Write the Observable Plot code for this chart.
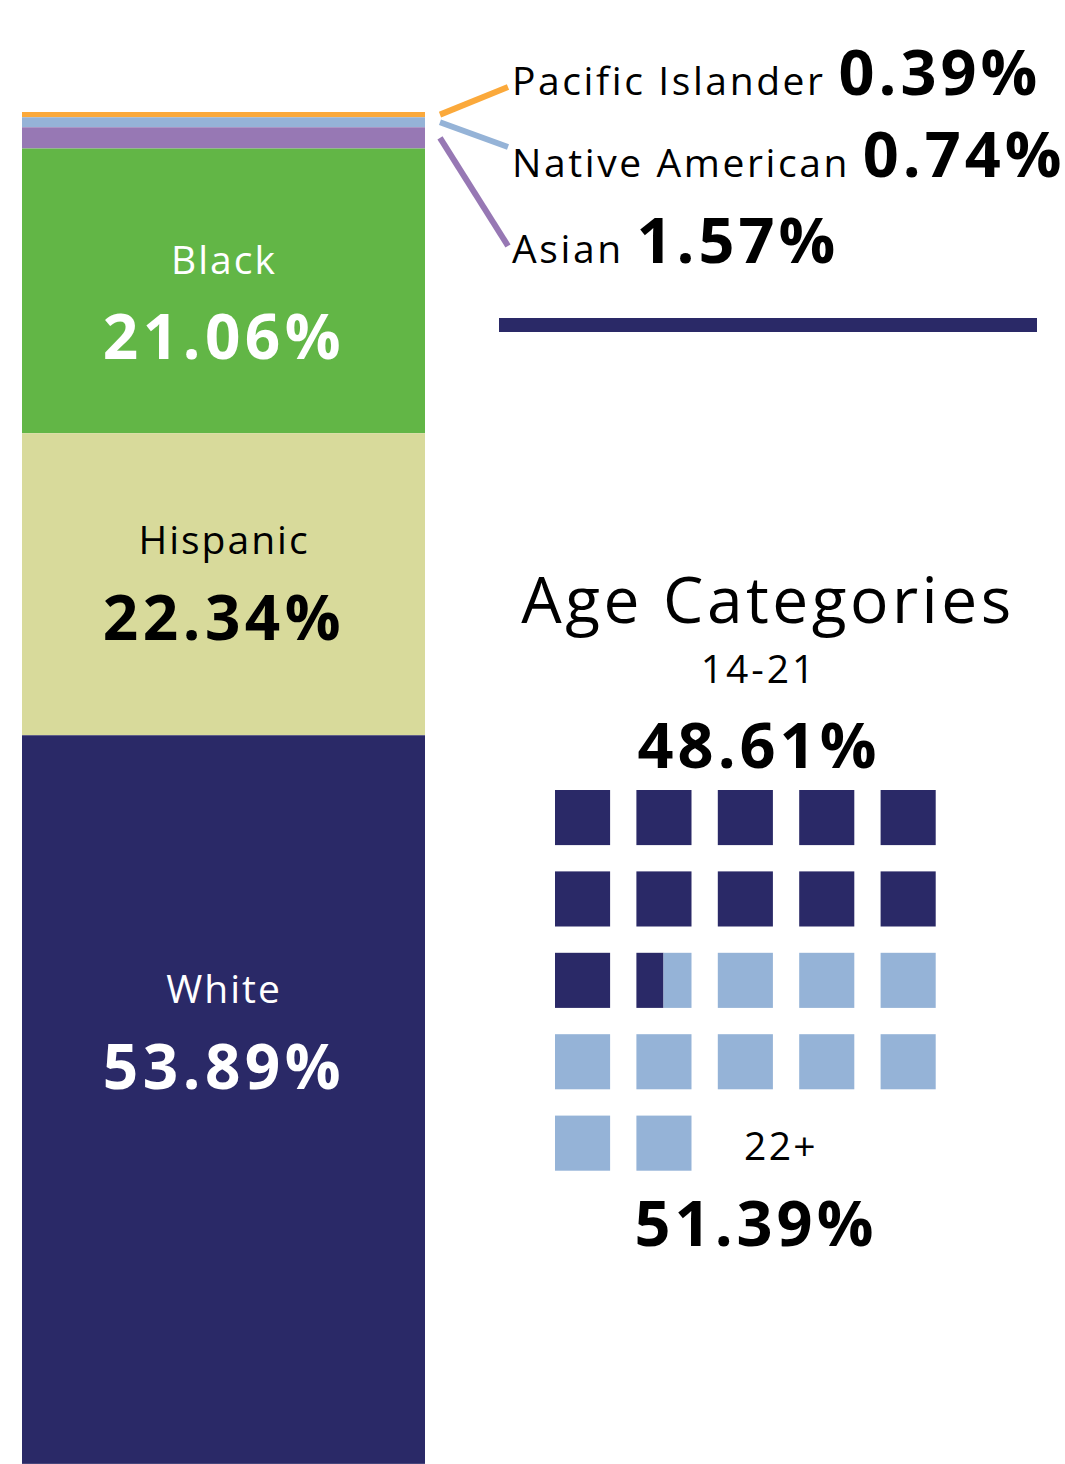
<!DOCTYPE html>
<html><head><meta charset="utf-8">
<script src="https://cdn.jsdelivr.net/npm/d3@7"></script>
<script src="https://cdn.jsdelivr.net/npm/@observablehq/plot@0.6"></script>
<style>
body{margin:0;background:#fff;}
#root{position:relative;width:1065px;height:1464px;overflow:hidden;background:#fff;font-family:"Open Sans",sans-serif;}
#root > svg{position:absolute;}
</style></head><body><div id="root"></div>
<script>
// ---- data ----
const races = ["Pacific Islander", "Native American", "Asian", "Black", "Hispanic", "White"];
const racePct = [0.39, 0.74, 1.57, 21.06, 22.34, 53.89];
const raceColors = ["#FBA93B", "#95B3D7", "#9778B4", "#62B646", "#D8DA9B", "#2A2967"];
const ageGroups = ["14-21", "22+"];
const agePct = [48.61, 51.39];
const ageColors = ["#2A2967", "#95B3D7"];
const waffleSquares = 22;
const waffleCols = 5;
const pctPerSquare = 4.23;

const fmt = v => v.toFixed(2) + "%";
const root = document.getElementById("root");
const FONT = '"Open Sans", sans-serif';

// ---- stacked race bar ----
const raceData = races.map((r, i) => ({g: "all", race: r, pct: racePct[i]}));
// inside labels: [race index, text color, name dy, value dy]
const inside = [[3, "white", -30, 48], [4, "black", -43, 35], [5, "white", -110, -31]];
const insideMarks = inside.flatMap(([i, col, dyN, dyV]) => [
  Plot.text(raceData, Plot.stackY({x: "g", y: "pct", text: d => d.race === races[i] ? d.race : "",
    fill: col, dy: dyN, fontSize: 39, fontFamily: FONT})),
  Plot.text(raceData, Plot.stackY({x: "g", y: "pct", text: d => d.race === races[i] ? fmt(d.pct) : "",
    fill: col, dy: dyV, fontSize: 62, fontWeight: "bold", fontFamily: FONT, className: "val"}))
]);
const barPlot = Plot.plot({
  width: 450, height: 1464,
  marginTop: 112, marginBottom: 0, marginLeft: 22, marginRight: 25,
  x: {axis: null, padding: 0},
  y: {axis: null, domain: [0, 100], reverse: true},
  color: {domain: races, range: raceColors},
  marks: [
    Plot.barY(raceData, {x: "g", y: "pct", fill: "race"}),
    ...insideMarks
  ]
});
barPlot.style.left = "0px"; barPlot.style.top = "0px";
d3.select(barPlot).selectAll("text").attr("letter-spacing", 2);
d3.select(barPlot).selectAll(".val text").attr("letter-spacing", 4.5);
root.appendChild(barPlot);

// ---- waffle ----
const darkUnits = agePct[0] / pctPerSquare;
const s = 55 / 81.25;
const cells = d3.range(waffleSquares).flatMap(k => {
  const col = k % waffleCols, row = Math.floor(k / waffleCols);
  const f = Math.max(0, Math.min(1, darkUnits - k));
  const out = [];
  if (f > 0) out.push({group: ageGroups[0], col, row, a: 0, b: f});
  if (f < 1) out.push({group: ageGroups[1], col, row, a: f, b: 1});
  return out;
});
const waffle = Plot.plot({
  width: 407, height: 407, margin: 0,
  x: {axis: null, domain: [0, waffleCols]},
  y: {axis: null, domain: [0, 5], reverse: true},
  color: {domain: ageGroups, range: ageColors},
  marks: [
    Plot.rect(cells, {x1: d => d.col + d.a * s, x2: d => d.col + d.b * s,
      y1: "row", y2: d => d.row + s, fill: "group"})
  ]
});
waffle.style.left = "555px"; waffle.style.top = "790px";
root.appendChild(waffle);

// ---- annotations ----
const yS = barPlot.scale("y");
const ov = d3.select(root).append("svg")
  .attr("width", 1065).attr("height", 1464)
  .style("left", "0px").style("top", "0px").style("pointer-events", "none")
  .style("font-family", FONT);

let cum = 0;
const mids = racePct.map(v => { const m = cum + v / 2; cum += v; return m; });
const leaderEnd = [87, 147, 246];
const labelBase = [95, 177, 263];
[0, 1, 2].forEach(i => {
  ov.append("line").attr("x1", 440).attr("y1", yS.apply(mids[i]))
    .attr("x2", 508).attr("y2", leaderEnd[i])
    .attr("stroke", raceColors[i]).attr("stroke-width", 6);
  const t = ov.append("text").attr("x", 512).attr("y", labelBase[i]).attr("fill", "#000");
  t.append("tspan").attr("font-size", 39).attr("letter-spacing", 2.6).text(races[i] + " ");
  t.append("tspan").attr("font-size", 63).attr("font-weight", "bold").attr("letter-spacing", 4).text(fmt(racePct[i]));
});

ov.append("rect").attr("x", 499).attr("y", 318).attr("width", 538).attr("height", 14).attr("fill", "#2A2967");

ov.append("text").attr("x", 768).attr("y", 623).attr("text-anchor", "middle")
  .attr("font-size", 64).attr("letter-spacing", 3.5).text("Age Categories");
ov.append("text").attr("x", 759).attr("y", 683).attr("text-anchor", "middle")
  .attr("font-size", 39).attr("letter-spacing", 3).text(ageGroups[0]);
ov.append("text").attr("x", 759).attr("y", 768).attr("text-anchor", "middle")
  .attr("font-size", 63).attr("font-weight", "bold").attr("letter-spacing", 4).text(fmt(agePct[0]));
ov.append("text").attr("x", 781).attr("y", 1160).attr("text-anchor", "middle")
  .attr("font-size", 39).attr("letter-spacing", 2.4).text(ageGroups[1]);
ov.append("text").attr("x", 756).attr("y", 1246).attr("text-anchor", "middle")
  .attr("font-size", 63).attr("font-weight", "bold").attr("letter-spacing", 4).text(fmt(agePct[1]));
</script>
</body></html>
